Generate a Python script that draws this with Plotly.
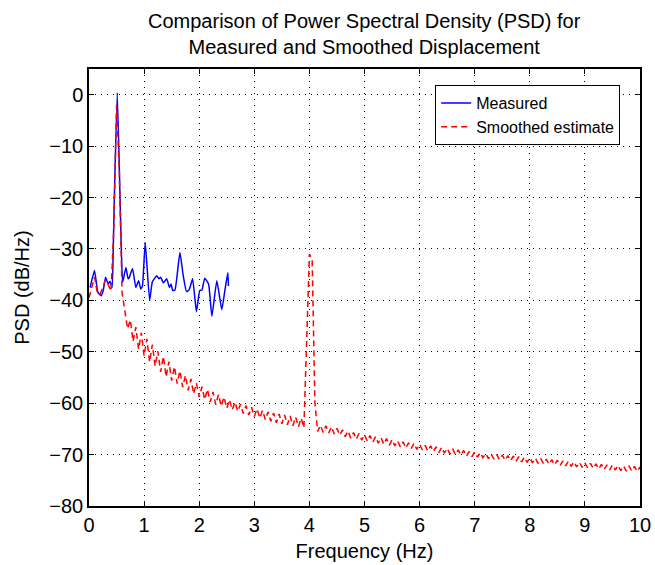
import plotly.graph_objects as go

# Measured PSD (blue)
meas_f = [0.02, 0.10, 0.16, 0.22, 0.26, 0.30, 0.35, 0.38, 0.42, 0.44, 0.46, 0.513, 0.563, 0.587, 0.61,
          0.67, 0.71, 0.73, 0.79, 0.85, 0.90, 0.94, 0.97, 1.02, 1.10, 1.15, 1.23, 1.27, 1.30, 1.35,
          1.41, 1.46, 1.49, 1.52, 1.56, 1.65, 1.71, 1.77, 1.82, 1.88, 1.95, 2.01, 2.05, 2.10, 2.17,
          2.23, 2.32, 2.41, 2.47, 2.52, 2.53]
meas_db = [-37.5, -34.2, -38.4, -39.1, -38.0, -35.5, -36.8, -36.3, -37.5, -30.0, -20.0, 0.4, -20.0, -30.0, -36.5,
           -33.6, -35.8, -35.6, -33.8, -37.5, -36.2, -37.8, -37.2, -28.7, -40.0, -36.4, -35.2, -35.8, -35.5, -36.6,
           -35.8, -37.5, -36.8, -38.1, -38.0, -30.7, -35.2, -38.3, -37.9, -35.8, -42.2, -38.1, -38.0, -35.7, -36.8,
           -43.1, -36.2, -41.8, -37.8, -34.6, -37.2]

# Smoothed estimate (red), sampled every 0.05 Hz from 0 to 10 Hz
smooth_db = [
    -39.5, -37.5, -35.5, -38.5, -38.8, -37.5, -36.0, -37.0, -38.2, -26.0,   # 0.00-0.45
    -2.0, -15.0, -38.5, -42.0, -45.5, -43.8, -48.0, -45.2, -49.5, -46.3,    # 0.50-0.95
    -50.8, -47.5, -52.0, -48.6, -52.8, -49.9, -53.9, -50.9, -54.9, -51.9,   # 1.00-1.45
    -55.6, -52.9, -56.2, -53.7, -56.9, -54.6, -57.5, -55.3, -58.2, -56.1,   # 1.50-1.95
    -58.8, -56.8, -59.3, -57.3, -59.8, -57.8, -60.3, -58.3, -60.6, -58.8,   # 2.00-2.45
    -61.0, -59.3, -61.3, -59.8, -61.6, -60.2, -62.0, -60.5, -62.3, -60.8,   # 2.50-2.95
    -62.6, -61.1, -62.9, -61.4, -63.2, -61.7, -63.5, -61.9, -63.8, -62.1,   # 3.00-3.45
    -64.0, -62.3, -64.2, -62.5, -64.4, -62.7, -64.6, -62.9, -64.8, -48.0,   # 3.50-3.95
    -31.0, -32.0, -60.0, -65.5, -64.3, -65.7, -64.4, -65.8, -64.6, -66.0,   # 4.00-4.45
    -64.9, -66.2, -65.2, -66.5, -65.4, -66.8, -65.7, -67.0, -65.9, -67.2,   # 4.50-4.95
    -66.1, -67.4, -66.3, -67.6, -66.5, -67.8, -66.7, -68.0, -66.9, -68.2,   # 5.00-5.45
    -67.1, -68.3, -67.3, -68.5, -67.5, -68.7, -67.7, -68.8, -67.8, -69.0,   # 5.50-5.95
    -68.0, -69.1, -68.2, -69.3, -68.3, -69.4, -68.5, -69.6, -68.6, -69.7,   # 6.00-6.45
    -68.8, -69.9, -68.9, -70.0, -69.1, -70.1, -69.2, -70.3, -69.4, -70.4,   # 6.50-6.95
    -69.5, -70.5, -69.6, -70.6, -69.8, -70.8, -69.9, -70.9, -70.0, -71.0,   # 7.00-7.45
    -70.1, -71.1, -70.2, -71.2, -70.3, -71.3, -70.4, -71.4, -70.5, -71.5,   # 7.50-7.95
    -70.6, -71.6, -70.7, -71.7, -70.8, -71.8, -70.9, -71.9, -71.0, -72.0,   # 8.00-8.45
    -71.1, -72.1, -71.2, -72.2, -71.3, -72.3, -71.4, -72.4, -71.5, -72.5,   # 8.50-8.95
    -71.6, -72.6, -71.7, -72.7, -71.8, -72.8, -71.9, -72.9, -72.0, -73.0,   # 9.00-9.45
    -72.0, -73.0, -72.1, -73.1, -72.2, -73.2, -72.2, -73.2, -72.3, -73.3,   # 9.50-9.95
    -72.4,                                                                  # 10.00
]
smooth_f = [round(i * 0.05, 2) for i in range(len(smooth_db))]

x_ticks = [0, 1, 2, 3, 4, 5, 6, 7, 8, 9, 10]
y_ticks = [0, -10, -20, -30, -40, -50, -60, -70, -80]

FONT = "Liberation Sans, Arial, Helvetica, sans-serif"
FS = 20

fig = go.Figure()
fig.add_trace(go.Scatter(x=meas_f, y=meas_db, mode="lines", name="Measured",
                         line=dict(color="#0000ff", width=1.5, shape="spline", smoothing=0.4)))
fig.add_trace(go.Scatter(x=smooth_f, y=smooth_db, mode="lines", name="Smoothed estimate",
                         line=dict(color="#ff0000", width=1.5, dash="6px,4px")))

axis_common = dict(
    showline=True, linecolor="black", linewidth=1.5, mirror="ticks",
    ticks="inside", ticklen=5, tickcolor="black", tickwidth=1,
    showgrid=True, gridcolor="black", gridwidth=1, griddash="1px,5px",
    zeroline=False, tickfont=dict(size=FS, color="black", family=FONT),
)

fig.update_xaxes(range=[0, 10], tickvals=x_ticks, automargin=False,
                 title=dict(text="Frequency (Hz)", font=dict(size=FS, color="black", family=FONT), standoff=9),
                 **axis_common)
fig.update_yaxes(range=[-80, 5], tickvals=y_ticks, automargin=False,
                 title=dict(text="PSD (dB/Hz)", font=dict(size=FS, color="black", family=FONT), standoff=14),
                 **axis_common)

fig.add_annotation(text="Comparison of Power Spectral Density (PSD) for<br>Measured and Smoothed Displacement",
                   xref="paper", yref="paper", x=0.5, y=(506 - 8) / 437,
                   xanchor="center", yanchor="top", showarrow=False,
                   font=dict(size=FS, color="black", family=FONT))

fig.update_layout(
    width=655, height=565,
    margin=dict(l=89, r=15, t=69, b=59),
    paper_bgcolor="white", plot_bgcolor="white",
    font=dict(family=FONT, color="black"),
    legend=dict(x=0.964, y=0.963, xanchor="right", yanchor="top",
                bgcolor="white", bordercolor="black", borderwidth=1,
                font=dict(size=16, color="black", family=FONT),
                tracegroupgap=2),
    showlegend=True,
)

fig.write_html("out.html")
